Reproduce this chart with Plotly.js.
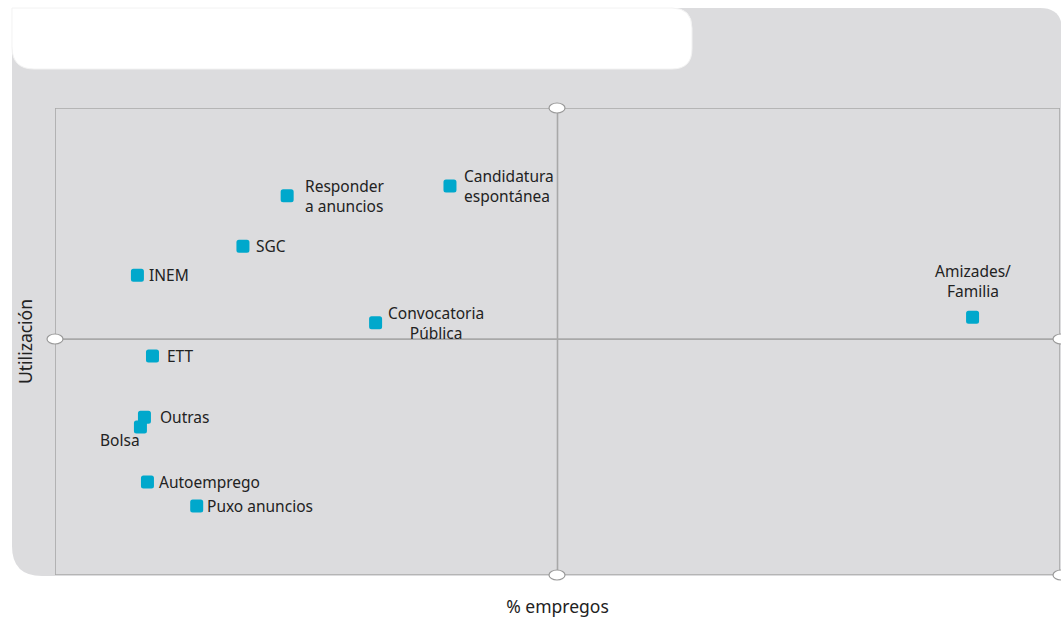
<!DOCTYPE html>
<html><head><meta charset="utf-8">
<script src="https://cdn.plot.ly/plotly-3.0.1.min.js"></script>
<style>
html,body{margin:0;padding:0;background:#fff}
#chart{width:1061px;height:620px}
.scatterlayer .point{stroke-linejoin:round}
</style>
</head><body><div id="chart"></div>
<script>
// ---- data ----
const categories = ["Responder<br>a anuncios","Candidatura<br>espontánea","SGC","INEM","Convocatoria<br>Pública","Amizades/<br>Familia","ETT","Outras","Bolsa","Autoemprego","Puxo anuncios"];
const empregos    = [23.1, 39.3, 18.7, 8.2, 31.9, 91.3, 9.7, 8.9, 8.5, 9.2, 14.1];
const utilizacion = [81.2, 83.3, 70.4, 64.2, 54.0, 55.2, 46.9, 33.8, 31.7, 19.9, 14.8];
const quadrantSplitX = 50;
const quadrantSplitY = 50.5;
const xTitle = "% empregos";
const yTitle = "Utilización";

// ---- label placement (style only) ----
const placement = [
  {xanchor:'left', align:'left', xs:16, ys:0},
  {xanchor:'left', align:'left', xs:12, ys:0},
  {xanchor:'left', align:'left', xs:11, ys:0},
  {xanchor:'left', align:'left', xs:10, ys:0},
  {xanchor:'left', align:'center', xs:10, ys:0},
  {xanchor:'center', align:'center', xs:0, ys:13, yanchor:'bottom'},
  {xanchor:'left', align:'left', xs:13, ys:0},
  {xanchor:'left', align:'left', xs:14, ys:0},
  {xanchor:'right', align:'right', xs:2, ys:-13},
  {xanchor:'left', align:'left', xs:10, ys:0},
  {xanchor:'left', align:'left', xs:8, ys:0}
];

// ---- geometry helpers (pixels -> paper) ----
const L=55, R=1, T=108, B=45, W=1061, H=620;
const pw = W-L-R, ph = H-T-B;
const px = x => (x-L)/pw;
const py = y => (H-B-y)/ph;
function roundRectPath(x0,y0,x1,y1,r){ // r: [tl,tr,br,bl]
  const [tl,tr,br,bl]=r;
  const P=(x,y)=>px(x).toFixed(5)+','+py(y).toFixed(5);
  return 'M'+P(x0+tl,y0)+' L'+P(x1-tr,y0)+' Q'+P(x1,y0)+' '+P(x1,y0+tr)+
    ' L'+P(x1,y1-br)+' Q'+P(x1,y1)+' '+P(x1-br,y1)+
    ' L'+P(x0+bl,y1)+' Q'+P(x0,y1)+' '+P(x0,y1-bl)+
    ' L'+P(x0,y0+tl)+' Q'+P(x0,y0)+' '+P(x0+tl,y0)+' Z';
}
function ellipse(cx,cy){
  return {type:'circle',xref:'paper',yref:'paper',x0:px(cx-8),x1:px(cx+8),y0:py(cy+5),y1:py(cy-5),
    fillcolor:'#ffffff',line:{color:'#9a9a9a',width:1.2},layer:'above'};
}

const frameColor = '#a8a8a8';
const shapes = [
  {type:'path',xref:'paper',yref:'paper',path:roundRectPath(12,8,1062,576,[20,22,0,30]),fillcolor:'#dcdcde',line:{width:0},layer:'below'},
  {type:'path',xref:'paper',yref:'paper',path:roundRectPath(12,8,692,69,[0,20,20,22]),fillcolor:'#ffffff',line:{color:'#f2f2f2',width:1},layer:'below'},
  {type:'rect',xref:'x',yref:'y',x0:0,x1:100,y0:0,y1:100,line:{color:frameColor,width:1.6},fillcolor:'rgba(0,0,0,0)',layer:'below'},
  {type:'line',xref:'x',yref:'y',x0:quadrantSplitX,x1:quadrantSplitX,y0:0,y1:100,line:{color:frameColor,width:1.6},layer:'below'},
  {type:'line',xref:'x',yref:'y',x0:0,x1:100,y0:quadrantSplitY,y1:quadrantSplitY,line:{color:frameColor,width:1.6},layer:'below'}
];
// small white handles on the frame
[[557,108],[55,339],[1061,339],[557,575],[1061,575]].forEach(p=>shapes.push(ellipse(p[0],p[1])));

const labelFont = {family:'Noto Sans, sans-serif', size:15.5, color:'#222222'};
const annotations = categories.map((c,i)=>({
  x: empregos[i], y: utilizacion[i], xref:'x', yref:'y', text:c, showarrow:false,
  xanchor: placement[i].xanchor, yanchor: placement[i].yanchor||'middle', align: placement[i].align,
  xshift: placement[i].xs, yshift: placement[i].ys,
  font: labelFont
}));

const trace = {
  type:'scatter', mode:'markers', x:empregos, y:utilizacion, text:categories, hoverinfo:'text',
  marker:{symbol:'square', size:8, color:'#00a8cc', line:{color:'#00a8cc', width:5}},
  cliponaxis:false
};

const layout = {
  width:W, height:H,
  margin:{l:L,r:R,t:T,b:B,pad:0},
  paper_bgcolor:'#ffffff', plot_bgcolor:'rgba(0,0,0,0)',
  showlegend:false,
  xaxis:{range:[0,100],showgrid:false,zeroline:false,showline:false,showticklabels:false,ticks:'',fixedrange:true,
    title:{text:xTitle,standoff:25,font:{family:'Noto Sans, sans-serif',size:17.5,color:'#222222'}}},
  yaxis:{range:[0,100],showgrid:false,zeroline:false,showline:false,showticklabels:false,ticks:'',fixedrange:true,
    title:{text:yTitle,standoff:16,font:{family:'Noto Sans, sans-serif',size:17.5,color:'#222222'}}},
  shapes:shapes,
  annotations:annotations
};

Plotly.newPlot('chart',[trace],layout,{displayModeBar:false,staticPlot:false});
</script>
</body></html>
